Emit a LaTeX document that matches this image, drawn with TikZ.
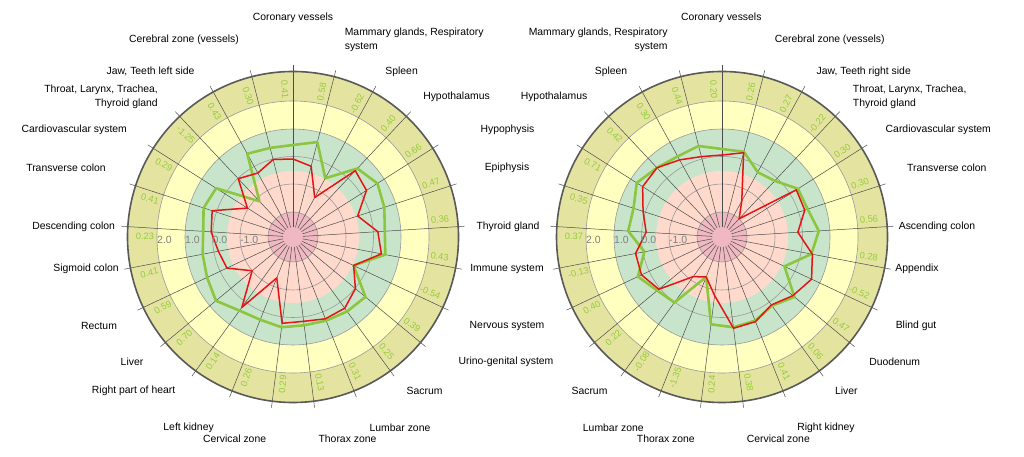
\documentclass[tikz,border=0pt]{standalone}
\usepackage{fontspec}
\setmainfont{Liberation Sans}
\definecolor{bandeolive}{RGB}{228,228,160}
\definecolor{bandejaune}{RGB}{255,255,192}
\definecolor{bandeverte}{RGB}{200,229,203}
\definecolor{bandesaumon}{RGB}{255,217,204}
\definecolor{disquerose}{RGB}{240,184,192}
\definecolor{vertvaleur}{RGB}{150,204,60}
\definecolor{rougecourbe}{RGB}{230,20,20}
\definecolor{vertcourbe}{RGB}{140,198,63}

\begin{document}
\begin{tikzpicture}[x=1pt,y=1pt,
    etiquette/.style={font=\fontsize{10.4}{13.4}\selectfont, inner sep=0pt},
    valeur/.style={font=\fontsize{9.3}{10}\selectfont, text=vertvaleur, inner sep=0pt},
    anneau/.style={font=\fontsize{10.5}{11}\selectfont, text=black!50, inner sep=0pt, anchor=west},
    rayon/.style={draw=black!70, line width=0.5pt},
    grille/.style={draw=black!40, line width=0.6pt},
    bord/.style={draw=black!65, line width=1.6pt},
    courberouge/.style={draw=rougecourbe, line width=1.5pt, line join=round},
    courbeverte/.style={draw=vertcourbe, line width=2.6pt, line join=round}]
    \useasboundingbox (0,0) rectangle (1024,457);

    % Diagramme de gauche
    \begin{scope}[shift={(293,220)}]
        % Bandes
        \fill[bandeolive] (0,0) circle (165.5pt);
        \fill[bandejaune] (0,0) circle (136pt);
        \fill[bandeverte] (0,0) circle (108pt);
        \fill[bandesaumon] (0,0) circle (66pt);
        \fill[disquerose] (0,0) circle (25pt);
        % Cercles et rayons
        \draw[grille] (0,0) circle (136pt) (0,0) circle (108pt) (0,0) circle (80.5pt)
            (0,0) circle (53pt) (0,0) circle (25pt);
        \foreach \k in {0,...,24} \draw[rayon] ({90-14.4*\k}:10) -- ({90-14.4*\k}:172);
        \draw[bord] (0,0) circle (165.5pt);
        % Courbes
        \draw[courbeverte] (90:92) \foreach \r [count=\k] in
            {98,67,94,100,96,92,94,67,94,92,90,89,91,89,91,100,95,92,90,94,91,49,95,92}
            { -- ({90-14.4*\k}:\r) } -- cycle;
        \draw[courberouge] (90:78) \foreach \r [count=\k] in
            {73,45,91,87,68,85,90,67,81,88,88,85,87,44,87,53,73,76,82,85,54,80,73,80}
            { -- ({90-14.4*\k}:\r) } -- cycle;
        % Graduations
        \node[anneau] (a2g) at (-136,-3) {2.0};
        \node[anneau] (a1g) at (-108,-3) {1.0};
        \node[anneau] (a0g) at (-80.5,-3) {0.0};
        \node[anneau] (am1g) at (-53,-3) {-1.0};
        % Valeurs
        \foreach \v [count=\k from 0] in {0.41,0.58,-0.62,0.40,0.66,0.47,0.36,0.43,-0.54,0.39,
            0.25,0.31,0.13,0.29,0.26,0.14,0.70,0.59,0.41,0.23,0.41,0.29,-1.25,0.43,0.30} {
            \pgfmathsetmacro\ang{93.2-14.4*\k}
            \pgfmathsetmacro\rot{\ang>90 ? \ang-180 : (\ang<-90 ? \ang+180 : \ang)}
            \node[valeur, rotate=\rot] (vg\k) at (\ang:148) {\v};
        }
    \end{scope}

    % Diagramme de droite
    \begin{scope}[shift={(722,220)}]
        % Bandes
        \fill[bandeolive] (0,0) circle (165.5pt);
        \fill[bandejaune] (0,0) circle (136pt);
        \fill[bandeverte] (0,0) circle (108pt);
        \fill[bandesaumon] (0,0) circle (66pt);
        \fill[disquerose] (0,0) circle (25pt);
        % Cercles et rayons
        \draw[grille] (0,0) circle (136pt) (0,0) circle (108pt) (0,0) circle (80.5pt)
            (0,0) circle (53pt) (0,0) circle (25pt);
        \foreach \k in {0,...,24} \draw[rayon] ({90-14.4*\k}:10) -- ({90-14.4*\k}:172);
        \draw[bord] (0,0) circle (165.5pt);
        % Courbes
        \draw[courbeverte] (90:88) \foreach \r [count=\k] in
            {88,74,77,90,90,97,91,69,94,85,90,91,88,43,81,84,93,79,94,93,101,95,92,94}
            { -- ({90-14.4*\k}:\r) } -- cycle;
        \draw[courberouge] (90:82) \foreach \r [count=\k] in
            {87,41,25,88,87,76,92,99,92,84,91,92,59,43,49,82,89,88,76,83,94,95,88,83}
            { -- ({90-14.4*\k}:\r) } -- cycle;
        % Graduations
        \node[anneau] (a2d) at (-136,-3) {2.0};
        \node[anneau] (a1d) at (-108,-3) {1.0};
        \node[anneau] (a0d) at (-80.5,-3) {0.0};
        \node[anneau] (am1d) at (-53,-3) {-1.0};
        % Valeurs
        \foreach \v [count=\k from 0] in {0.20,0.26,0.27,-0.22,0.30,0.30,0.56,0.28,-0.52,0.47,
            0.06,0.41,0.38,0.24,-1.35,-0.08,0.22,0.40,-0.13,0.37,0.35,0.71,0.42,0.30,0.44} {
            \pgfmathsetmacro\ang{93.2-14.4*\k}
            \pgfmathsetmacro\rot{\ang>90 ? \ang-180 : (\ang<-90 ? \ang+180 : \ang)}
            \node[valeur, rotate=\rot] (vd\k) at (\ang:148) {\v};
        }
    \end{scope}

    % Etiquettes de gauche
    \node[etiquette] (coronaireg) at (293,438.7) {Coronary vessels};
    \node[etiquette, anchor=west, align=left] (mammaireg) at (344.6,417) {Mammary glands, Respiratory\\system};
    \node[etiquette] (rateg) at (401.6,385.3) {Spleen};
    \node[etiquette] (hypothalamusg) at (456.5,359.7) {Hypothalamus};
    \node[etiquette] (hypophyseg) at (507.5,327) {Hypophysis};
    \node[etiquette] (epiphyseg) at (507,288.7) {Epiphysis};
    \node[etiquette] (thyroideg) at (508,229.7) {Thyroid gland};
    \node[etiquette] (immunitaireg) at (507,188.3) {Immune system};
    \node[etiquette] (nerveuxg) at (507,131) {Nervous system};
    \node[etiquette] (urinog) at (506,95.3) {Urino-genital system};
    \node[etiquette] (sacrumg) at (424.6,66.3) {Sacrum};
    \node[etiquette] (lombaireg) at (400,29.3) {Lumbar zone};
    \node[etiquette] (thoraxg) at (347.5,18.7) {Thorax zone};
    \node[etiquette] (cervicaleg) at (234.6,18.7) {Cervical zone};
    \node[etiquette] (reing) at (188.6,29.3) {Left kidney};
    \node[etiquette] (coeurg) at (133.6,66.3) {Right part of heart};
    \node[etiquette] (foieg) at (132,95.3) {Liver};
    \node[etiquette] (rectumg) at (99,131) {Rectum};
    \node[etiquette] (sigmoideg) at (86,188.3) {Sigmoid colon};
    \node[etiquette] (descendantg) at (73.6,229.7) {Descending colon};
    \node[etiquette] (transverseg) at (66,289.3) {Transverse colon};
    \node[etiquette] (cardiog) at (74.3,327) {Cardiovascular system};
    \node[etiquette, anchor=east, align=right] (gorgeg) at (158,360) {Throat, Larynx, Trachea,\\Thyroid gland};
    \node[etiquette] (machoireg) at (150.5,385.3) {Jaw, Teeth left side};
    \node[etiquette] (cerebraleg) at (184,417) {Cerebral zone (vessels)};

    % Etiquettes de droite
    \node[etiquette] (coronaired) at (721.3,438.7) {Coronary vessels};
    \node[etiquette, anchor=east, align=right] (mammaired) at (667.7,417) {Mammary glands, Respiratory\\system};
    \node[etiquette] (rated) at (611,385.3) {Spleen};
    \node[etiquette] (hypothalamusd) at (554,359.7) {Hypothalamus};
    \node[etiquette] (cerebraled) at (829.7,417) {Cerebral zone (vessels)};
    \node[etiquette] (machoired) at (863.7,385.3) {Jaw, Teeth right side};
    \node[etiquette, anchor=west, align=left] (gorged) at (852.7,360) {Throat, Larynx, Trachea,\\Thyroid gland};
    \node[etiquette] (cardiod) at (938.3,327) {Cardiovascular system};
    \node[etiquette] (transversed) at (946.8,289.3) {Transverse colon};
    \node[etiquette] (ascendantd) at (937,229.7) {Ascending colon};
    \node[etiquette] (appendiced) at (917,188.3) {Appendix};
    \node[etiquette] (caecumd) at (916,131) {Blind gut};
    \node[etiquette] (duodenumd) at (894.7,95.3) {Duodenum};
    \node[etiquette] (foied) at (846.3,66.3) {Liver};
    \node[etiquette] (reind) at (826,29.3) {Right kidney};
    \node[etiquette] (cervicaled) at (778.3,18.7) {Cervical zone};
    \node[etiquette] (thoraxd) at (665.8,18.7) {Thorax zone};
    \node[etiquette] (lombaired) at (613.3,29.3) {Lumbar zone};
    \node[etiquette] (sacrumd) at (589.5,66.3) {Sacrum};
\end{tikzpicture}
\end{document}
